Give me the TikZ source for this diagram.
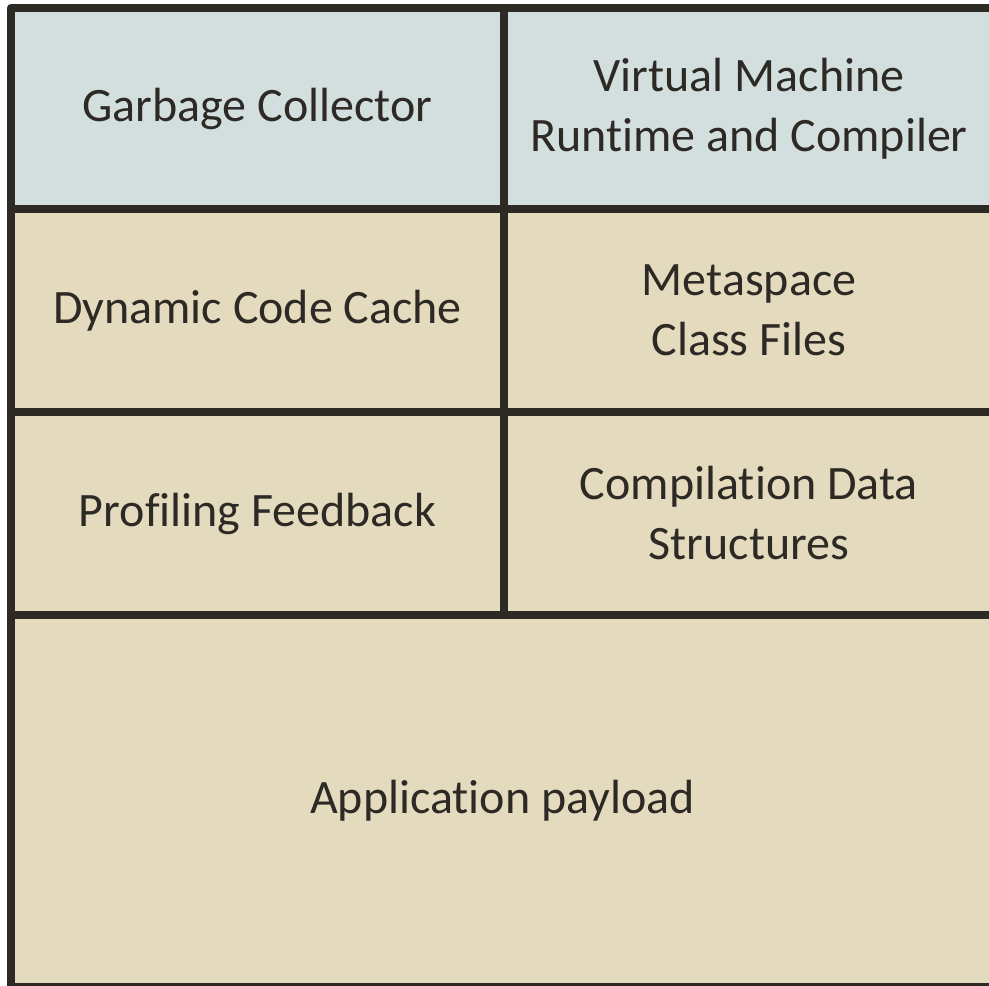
\documentclass[tikz,border=0pt]{standalone}
\usepackage{fontspec}
\setmainfont{Carlito}[Ligatures=NoCommon]
\usepackage{tikz}
\usetikzlibrary{positioning}
\definecolor{vmblue}{HTML}{D3DFDF}
\definecolor{heapbeige}{HTML}{E4DABD}
\definecolor{edgegray}{HTML}{2D2A26}

\begin{document}
\begin{tikzpicture}[x=1pt, y=-1pt, every node/.style={font=\fontsize{48}{60}\selectfont, align=center, text=edgegray,
        draw=edgegray, line width=8.5pt, line join=round, outer sep=0pt, inner sep=0pt}]
        \useasboundingbox (0,0) rectangle (989,986);
        \clip (0,0) rectangle (989,986);

        \node[fill=vmblue, minimum width=493pt, minimum height=201pt, anchor=north west] (gc) at (11,8)
            {Garbage Collector};
        \node[fill=vmblue, minimum width=490pt, minimum height=201pt, right=0pt of gc] (vm)
            {Virtual Machine\\Runtime and Compiler};
        \node[fill=heapbeige, minimum width=493pt, minimum height=203pt, below=0pt of gc] (codecache)
            {Dynamic Code Cache};
        \node[fill=heapbeige, minimum width=490pt, minimum height=203pt, right=0pt of codecache] (metaspace)
            {Metaspace\\Class Files};
        \node[fill=heapbeige, minimum width=493pt, minimum height=203pt, below=0pt of codecache] (profiling)
            {Profiling Feedback};
        \node[fill=heapbeige, minimum width=490pt, minimum height=203pt, right=0pt of profiling] (compdata)
            {Compilation Data\\Structures};
        \node[fill=heapbeige, minimum width=983pt, minimum height=372pt, anchor=north west] (payload) at (profiling.south west)
            {Application payload};
    \end{tikzpicture}
\end{document}
